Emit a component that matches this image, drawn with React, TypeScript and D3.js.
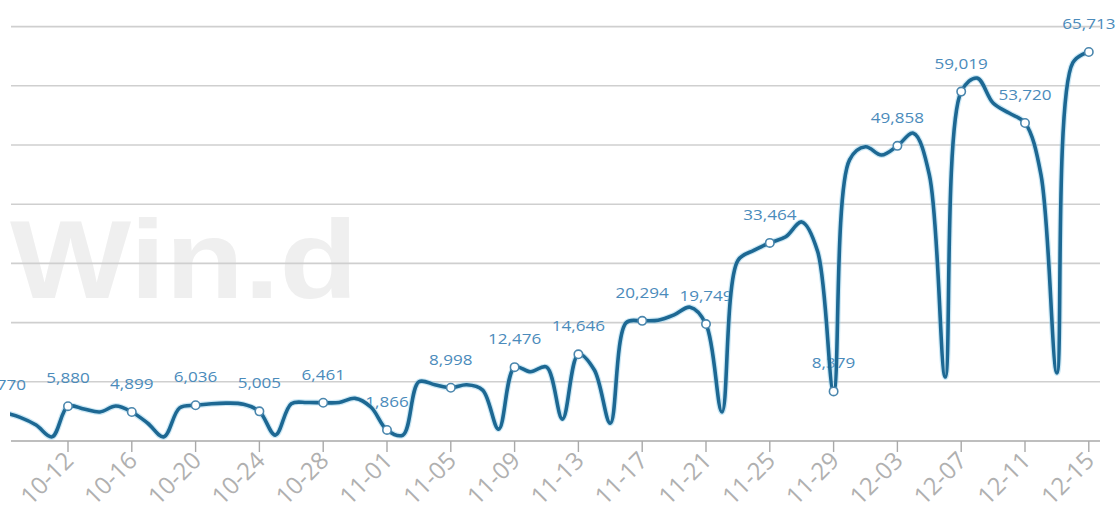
import React from "react";
import * as d3 from "d3";

const dates: string[] = [
  "10-08","10-09","10-10","10-11","10-12","10-13","10-14","10-15","10-16","10-17",
  "10-18","10-19","10-20","10-21","10-22","10-23","10-24","10-25","10-26","10-27",
  "10-28","10-29","10-30","10-31","11-01","11-02","11-03","11-04","11-05","11-06",
  "11-07","11-08","11-09","11-10","11-11","11-12","11-13","11-14","11-15","11-16",
  "11-17","11-18","11-19","11-20","11-21","11-22","11-23","11-24","11-25","11-26",
  "11-27","11-28","11-29","11-30","12-01","12-02","12-03","12-04","12-05","12-06",
  "12-07","12-08","12-09","12-10","12-11","12-12","12-13","12-14","12-15",
];

const values: number[] = [
  4770, 4000, 2700, 700, 5880, 5400, 4900, 5900, 4899, 3000,
  700, 5600, 6036, 6300, 6400, 6200, 5005, 1000, 6300, 6500,
  6461, 6500, 7200, 5700, 1866, 1000, 10000, 9500, 8998, 9500,
  8600, 2000, 12476, 11700, 12500, 3700, 14646, 12000, 3000, 20000,
  20294, 20400, 21300, 22600, 19749, 4900, 30500, 32200, 33464, 34500,
  37000, 32000, 8379, 47500, 49700, 48300, 49858, 52000, 45000, 10800,
  59019, 61300, 57100, 55400, 53720, 45000, 11500, 63900, 65713,
];

const tickLabels: string[] = [
  "10-12","10-16","10-20","10-24","10-28","11-01","11-05","11-09","11-13",
  "11-17","11-21","11-25","11-29","12-03","12-07","12-11","12-15",
];

const labeledDates: string[] = ["10-08", ...tickLabels];

const yTicks: number[] = [0, 10000, 20000, 30000, 40000, 50000, 60000, 70000];

const W = 1120;
const H = 525;

export default function App() {
  const parse = (s: string) => new Date(Date.UTC(2020, +s.slice(0, 2) - 1, +s.slice(3)));
  const data = dates.map((d, i) => ({ d, date: parse(d), v: values[i] }));

  const x = d3
    .scaleUtc()
    .domain([parse("10-08"), parse("12-15")])
    .range([4.2, 1088.8]);
  const y = d3.scaleLinear().domain([0, 70000]).range([441, 26.6]);

  const plotLeft = 11;
  const plotRight = 1100;

  const line = d3
    .line<{ date: Date; v: number }>()
    .x((p) => x(p.date))
    .y((p) => y(p.v))
    .curve(d3.curveCatmullRom.alpha(0.5));
  const path = line(data) || "";

  const fmt = d3.format(",");
  const labeled = data.filter((p) => labeledDates.includes(p.d));

  return (
    <svg
      width={W}
      height={H}
      style={{ position: "absolute", left: 0, top: 0, background: "#fff" }}
      fontFamily="'Open Sans', 'DejaVu Sans', sans-serif"
    >
      <defs>
        <clipPath id="plotclip">
          <rect x={plotLeft - 1} y={0} width={plotRight - plotLeft + 2} height={H} />
        </clipPath>
      </defs>
      <rect x={0} y={0} width={W} height={H} fill="#fff" />
      {/* watermark */}
      <text
        x={10}
        y={298}
        fontFamily="'Liberation Sans', Arial, sans-serif"
        fontWeight="bold"
        fontSize={112}
        fill="#efefef"
        textLength={348}
        lengthAdjust="spacingAndGlyphs"
      >
        Win.d
      </text>
      {/* gridlines */}
      {yTicks.slice(1).map((t) => (
        <line
          key={t}
          x1={plotLeft}
          x2={plotRight}
          y1={y(t)}
          y2={y(t)}
          stroke="#cfcfcf"
          strokeWidth={1.6}
        />
      ))}
      {/* x axis */}
      <line x1={plotLeft} x2={plotRight} y1={y(0)} y2={y(0)} stroke="#a9a9a9" strokeWidth={1.6} />
      {tickLabels.map((t) => {
        const tx = x(parse(t));
        return (
          <g key={t}>
            <line x1={tx} x2={tx} y1={y(0)} y2={y(0) + 11} stroke="#a9a9a9" strokeWidth={1.4} />
            <text
              transform={`translate(${tx + 7},${y(0) + 21}) rotate(-45)`}
              textAnchor="end"
              fontSize={24}
              fill="#b0b0b0"
            >
              {t}
            </text>
          </g>
        );
      })}
      {/* value labels (under the line) */}
      {labeled.map((p) => (
        <text
          key={"l" + p.d}
          transform={`translate(${x(p.date)},${y(p.v) - 23}) scale(1.22,1)`}
          textAnchor="middle"
          fontSize={14}
          fill="#4b8bbb"
        >
          {fmt(p.v)}
        </text>
      ))}
      {/* line */}
      <g clipPath="url(#plotclip)">
        <path d={path} fill="none" stroke="#8fcbe8" strokeWidth={6} strokeOpacity={0.45} />
        <path d={path} fill="none" stroke="#1d6893" strokeWidth={3.6} strokeLinejoin="round" />
        {labeled.map((p) => (
          <circle
            key={p.d}
            cx={x(p.date)}
            cy={y(p.v)}
            r={4.2}
            fill="#fff"
            stroke="#4a86ad"
            strokeWidth={1.6}
          />
        ))}
      </g>
    </svg>
  );
}
